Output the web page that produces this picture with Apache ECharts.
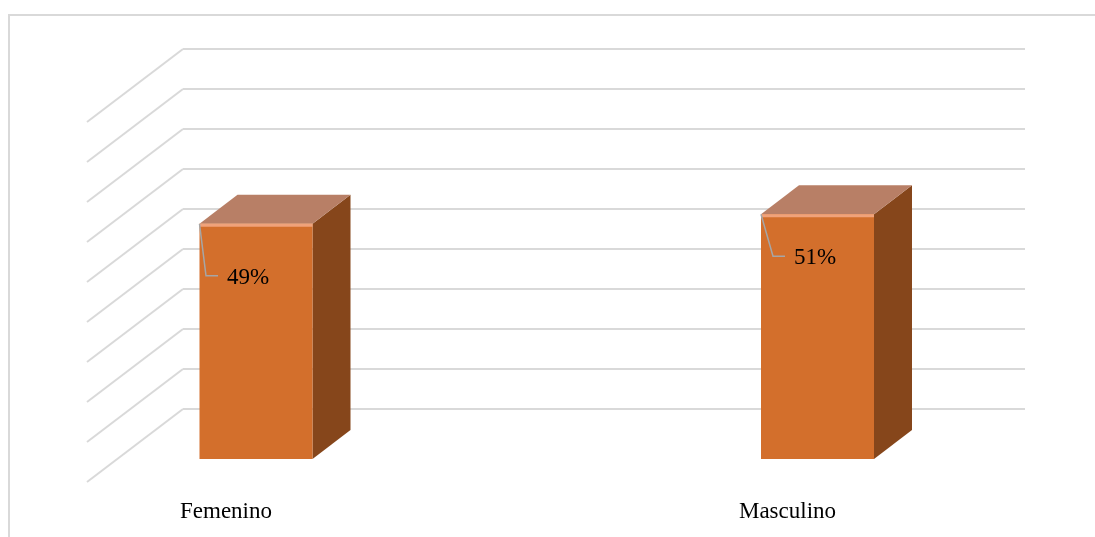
<!DOCTYPE html>
<html>
<head>
<meta charset="utf-8">
<title>Sexo</title>
<script src="https://cdn.jsdelivr.net/npm/echarts@6/dist/echarts.min.js"></script>
<style>
  html, body { margin: 0; padding: 0; background: #ffffff; }
  #chart { width: 1095px; height: 537px; }
</style>
</head>
<body>
<div id="chart"></div>
<script>
// Categories and their shares (percent)
const categories = ['Femenino', 'Masculino'];
const shares = [49, 51];

// Value scale shared by the back wall and the columns
const valueMax = 75;
const wallDivisions = 9;

// Oblique 3D projection: floor depth and column depth offsets
const WALL_DX = -96, WALL_DY = 73;        // back wall -> front edge of floor
const COL_SHIFT_X = 30, COL_SHIFT_Y = -23; // front floor edge -> column front face
const COL_DX = 38, COL_DY = -29;           // column depth
const COL_WIDTH = 113;

// Leader lines of the value labels (relative to the column's top-left corner)
const leaderOffsets = [[6.5, 52], [12, 42]];

const GRID_COLOR = '#d9d9d9';
const SERIF = '"Liberation Serif", "Times New Roman", serif';
const chart = echarts.init(document.getElementById('chart'), null, { renderer: 'canvas' });

const wallData = [];
for (let i = 0; i <= wallDivisions; i++) wallData.push([0, i * valueMax / wallDivisions]);

function renderWall(params, api) {
  const v = api.value(1);
  const l = api.coord([0, v]);
  const r = api.coord([1, v]);
  const style = { stroke: GRID_COLOR, lineWidth: 2 };
  return {
    type: 'group',
    children: [
      { type: 'line', shape: { x1: l[0], y1: l[1], x2: r[0], y2: r[1] }, style },
      { type: 'line', shape: { x1: l[0], y1: l[1], x2: l[0] + WALL_DX, y2: l[1] + WALL_DY }, style }
    ]
  };
}

function renderColumn(params, api) {
  const idx = params.dataIndex;
  const cat = api.value(0);
  const v = api.value(1);
  const base = api.coord([cat, 0]);
  const top = api.coord([cat, v]);
  const x0 = base[0] + COL_SHIFT_X - COL_WIDTH / 2;
  const x1 = x0 + COL_WIDTH;
  const yb = base[1] + COL_SHIFT_Y;
  const yt = top[1] + COL_SHIFT_Y;
  const lo = leaderOffsets[idx];
  const ex = x0 + lo[0], ey = yt + lo[1];
  return {
    type: 'group',
    children: [
      { type: 'polygon', shape: { points: [[x1, yt], [x1 + COL_DX, yt + COL_DY], [x1 + COL_DX, yb + COL_DY], [x1, yb]] },
        style: { fill: '#86461b' } },
      { type: 'polygon', shape: { points: [[x0, yt], [x1, yt], [x1 + COL_DX, yt + COL_DY], [x0 + COL_DX, yt + COL_DY]] },
        style: { fill: '#b87f66' } },
      { type: 'rect', shape: { x: x0, y: yt, width: COL_WIDTH, height: yb - yt },
        style: { fill: '#d36f2c' } },
      { type: 'rect', shape: { x: x0, y: yt, width: COL_WIDTH, height: 3 },
        style: { fill: '#f0a27a' } },
      { type: 'polyline', shape: { points: [[x0, yt], [ex, ey], [ex + 12, ey]] },
        style: { stroke: '#a6a6a6', lineWidth: 1.5, fill: null } },
      { type: 'text', x: ex + 21, y: ey + 2,
        style: { text: v + '%', fill: '#000000', font: '23px ' + SERIF,
                 textAlign: 'left', textVerticalAlign: 'middle' } }
    ]
  };
}

chart.setOption({
  animation: false,
  backgroundColor: '#ffffff',
  graphic: [
    { type: 'polyline', shape: { points: [[9, 537], [9, 15], [1095, 15]] },
      style: { stroke: GRID_COLOR, lineWidth: 2, fill: null }, silent: true }
  ],
  grid: [
    { left: 183, top: 49, width: 842, height: 360 },
    { left: 226, top: 122, width: 561.5, height: 360 }
  ],
  xAxis: [
    { gridIndex: 0, type: 'value', min: 0, max: 1, show: false },
    { gridIndex: 1, type: 'category', data: categories, boundaryGap: false,
      axisLine: { show: false }, axisTick: { show: false }, splitLine: { show: false },
      axisLabel: { margin: 18, color: '#000000', fontSize: 23, fontFamily: SERIF } }
  ],
  yAxis: [
    { gridIndex: 0, type: 'value', min: 0, max: valueMax, show: false },
    { gridIndex: 1, type: 'value', min: 0, max: valueMax, show: false }
  ],
  series: [
    { type: 'custom', xAxisIndex: 0, yAxisIndex: 0, z: 1, silent: true,
      renderItem: renderWall, data: wallData, clip: false },
    { type: 'custom', xAxisIndex: 1, yAxisIndex: 1, z: 5,
      renderItem: renderColumn, clip: false,
      data: categories.map((c, i) => [i, shares[i]]) }
  ]
});
</script>
</body>
</html>
